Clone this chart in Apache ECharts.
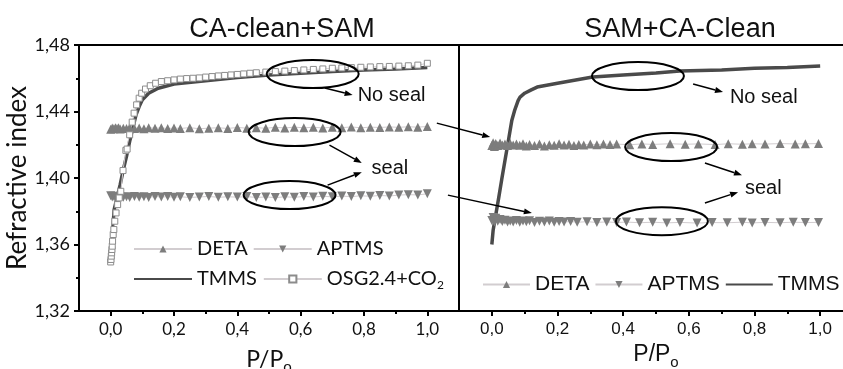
<!DOCTYPE html>
<html><head><meta charset="utf-8">
<script src="https://cdn.jsdelivr.net/npm/echarts@6/dist/echarts.min.js"></script>
<style>html,body{margin:0;padding:0;background:#fff}#c{width:843px;height:369px}</style>
</head><body><div id="c"></div>
<script>
// ---------- tick labels ----------
const xTicks = [0, 0.2, 0.4, 0.6, 0.8, 1.0];
const xMinorTicks = [0.1, 0.3, 0.5, 0.7, 0.9];
const yTicks = [1.32, 1.36, 1.40, 1.44, 1.48];

// ---------- left panel: CA-clean+SAM ----------
const detaLX = [0,0.005,0.01,0.015,0.02,0.025,0.03,0.04,0.05,0.06,0.075,0.09,0.105,0.12,0.14,0.16,0.18,0.2,0.22,0.25,0.28,0.31,0.34,0.37,0.4,0.43,0.46,0.49,0.52,0.55,0.58,0.61,0.64,0.67,0.7,0.73,0.76,0.79,0.82,0.85,0.88,0.91,0.94,0.97,1.0];
const detaLY = [1.4293,1.4301,1.4296,1.4303,1.4298,1.4302,1.4295,1.4300,1.4297,1.4304,1.4298,1.4301,1.4296,1.4303,1.4299,1.4302,1.4297,1.4301,1.4298,1.4303,1.4296,1.4300,1.4302,1.4298,1.4304,1.4300,1.4303,1.4299,1.4305,1.4301,1.4306,1.4302,1.4305,1.4301,1.4306,1.4303,1.4307,1.4302,1.4306,1.4304,1.4307,1.4305,1.4308,1.4306,1.4310];
const aptmsLX = detaLX;
const aptmsLY = [1.3893,1.3885,1.3890,1.3883,1.3888,1.3882,1.3889,1.3884,1.3887,1.3882,1.3888,1.3884,1.3887,1.3883,1.3889,1.3885,1.3888,1.3884,1.3887,1.3883,1.3886,1.3889,1.3884,1.3887,1.3885,1.3888,1.3883,1.3886,1.3882,1.3887,1.3884,1.3889,1.3886,1.3890,1.3887,1.3891,1.3888,1.3893,1.3890,1.3895,1.3892,1.3897,1.3900,1.3898,1.3905];
const tmmsLX = [0,0.005,0.011,0.02,0.03,0.04,0.05,0.06,0.07,0.08,0.09,0.1,0.12,0.15,0.2,0.3,0.4,0.5,0.6,0.7,0.8,0.9,1.0];
const tmmsLY = [1.348,1.364,1.381,1.388,1.396,1.405,1.413,1.422,1.430,1.438,1.443,1.447,1.451,1.454,1.4565,1.4585,1.4605,1.462,1.463,1.464,1.465,1.4655,1.4665];
const osgX = [0,0.001,0.002,0.003,0.004,0.005,0.006,0.008,0.01,0.013,0.017,0.022,0.027,0.032,0.039,0.048,0.052,0.06,0.068,0.074,0.082,0.09,0.098,0.11,0.125,0.142,0.16,0.18,0.2,0.22,0.24,0.26,0.28,0.3,0.32,0.34,0.36,0.38,0.4,0.42,0.44,0.46,0.49,0.52,0.55,0.58,0.61,0.64,0.67,0.7,0.73,0.76,0.79,0.82,0.85,0.88,0.91,0.94,0.97,1.0];
const osgY = [1.3495,1.351,1.353,1.355,1.357,1.359,1.362,1.366,1.369,1.374,1.379,1.384,1.388,1.392,1.4045,1.4166,1.4174,1.426,1.4336,1.439,1.444,1.448,1.451,1.4535,1.4555,1.457,1.458,1.4585,1.459,1.4595,1.4598,1.460,1.4602,1.4607,1.461,1.4614,1.4617,1.462,1.4623,1.4626,1.463,1.4633,1.4637,1.464,1.4643,1.4646,1.465,1.4653,1.4656,1.466,1.4662,1.4664,1.4666,1.4668,1.467,1.4671,1.4673,1.4675,1.4679,1.469];

// ---------- right panel: SAM+CA-Clean ----------
const detaRX = [0,0.004,0.008,0.012,0.018,0.025,0.032,0.04,0.048,0.056,0.065,0.075,0.085,0.095,0.105,0.115,0.13,0.145,0.16,0.175,0.19,0.205,0.22,0.235,0.25,0.265,0.28,0.30,0.32,0.34,0.36,0.38,0.42,0.457,0.49,0.543,0.589,0.629,0.68,0.72,0.763,0.793,0.832,0.878,0.924,0.955,0.995];
const detaRY = [1.4195,1.4212,1.4190,1.4208,1.4196,1.4210,1.4198,1.4205,1.4195,1.4207,1.4199,1.4204,1.4197,1.4206,1.4193,1.4201,1.4196,1.4205,1.4192,1.4200,1.4197,1.4206,1.4198,1.4203,1.4196,1.4202,1.4199,1.4204,1.4200,1.4205,1.4201,1.4204,1.4200,1.4205,1.4202,1.4206,1.4203,1.4205,1.4201,1.4206,1.4203,1.4206,1.4204,1.4207,1.4205,1.4206,1.4207];
const aptmsRX = [0,0.004,0.008,0.012,0.018,0.025,0.032,0.04,0.048,0.056,0.065,0.075,0.085,0.095,0.105,0.115,0.13,0.145,0.16,0.175,0.19,0.205,0.22,0.24,0.26,0.29,0.32,0.35,0.38,0.41,0.45,0.49,0.533,0.573,0.625,0.671,0.717,0.763,0.793,0.832,0.878,0.918,0.955,0.995];
const aptmsRY = [1.3745,1.3762,1.3735,1.3758,1.3740,1.3750,1.3738,1.3746,1.3735,1.3742,1.3736,1.3744,1.3734,1.3741,1.3737,1.3743,1.3733,1.3740,1.3736,1.3742,1.3734,1.3739,1.3735,1.3738,1.3734,1.3737,1.3733,1.3736,1.3732,1.3735,1.3731,1.3734,1.3730,1.3733,1.3729,1.3732,1.3731,1.3734,1.3730,1.3733,1.3731,1.3734,1.3732,1.3733];
const tmmsRX = [0,0.004,0.01,0.02,0.03,0.04,0.05,0.061,0.07,0.08,0.086,0.1,0.12,0.138,0.2,0.307,0.4,0.5,0.572,0.7,0.8,0.9,1.0];
const tmmsRY = [1.360,1.3686,1.3756,1.387,1.399,1.4105,1.422,1.4348,1.441,1.4465,1.4487,1.451,1.453,1.4547,1.457,1.4607,1.462,1.4632,1.4643,1.465,1.466,1.4665,1.4674];

// ---------- annotations (data coordinates of each panel) ----------
const ellipses = [
  {g:0, c:[0.638,1.4625]}, {g:0, c:[0.581,1.4276]}, {g:0, c:[0.565,1.3897]},
  {g:1, c:[0.445,1.4613]}, {g:1, c:[0.546,1.4186]}, {g:1, c:[0.518,1.3740]}
];
const arrows = [
  {g1:0, p1:[0.676,1.4541], g2:0, p2:[0.764,1.4499]},
  {g1:0, p1:[0.691,1.4198], g2:0, p2:[0.793,1.4090]},
  {g1:0, p1:[0.685,1.3957], g2:0, p2:[0.793,1.4035]},
  {g1:0, p1:[1.030,1.4330], g2:1, p2:[-0.005,1.4246]},
  {g1:0, p1:[1.065,1.3897], g2:1, p2:[0.122,1.3789]},
  {g1:1, p1:[0.613,1.4565], g2:1, p2:[0.704,1.4517]},
  {g1:1, p1:[0.649,1.4090], g2:1, p2:[0.762,1.4017]},
  {g1:1, p1:[0.649,1.3850], g2:1, p2:[0.750,1.3915]}
];
const notes = [
  {g:0, p:[0.780,1.4499], t:'No seal'}, {g:0, p:[0.824,1.4060], t:'seal'},
  {g:1, p:[0.725,1.4487], t:'No seal'}, {g:1, p:[0.771,1.3939], t:'seal'}
];

const zip = (xs, ys) => xs.map((x, i) => [x, ys[i]]);
const fmtX = v => v.toFixed(1).replace('.', ',');
const fmtY = v => v.toFixed(2).replace('.', ',');
const GILL = 'Lato';
const ARIAL = 'Liberation Sans';

const chart = echarts.init(document.getElementById('c'), null, {renderer: 'canvas'});

function xAxisPair(gi, labelFont, nameGap) {
  return [
    { type:'value', gridIndex:gi, min:-0.1, max:1.1, position:'bottom',
      axisLine:{show:true, onZero:false, lineStyle:{color:'#000', width:2}},
      axisTick:{show:true, customValues:xTicks, length:5, lineStyle:{color:'#000', width:2}},
      axisLabel:{show:true, customValues:xTicks, formatter:fmtX, color:'#111', fontSize:17, fontFamily:labelFont, margin:10},
      splitLine:{show:false},
      name:'{a|P/P}{s|o}', nameLocation:'middle', nameGap:nameGap,
      nameTextStyle:{rich:{a:{fontSize:23, fontFamily:labelFont, color:'#111'}, s:{fontSize:15, fontFamily:labelFont, color:'#111', padding:[16,0,0,0]}}}
    },
    { type:'value', gridIndex:gi, min:-0.1, max:1.1, position:'bottom',
      axisLine:{show:false, onZero:false},
      axisTick:{show:true, customValues:xMinorTicks, length:3, lineStyle:{color:'#000', width:2}},
      axisLabel:{show:false}, splitLine:{show:false}
    }
  ];
}

const triColor = '#7d7d7d';
const thinLine = {color:'#d2cdd0', width:1};

const option = {
  animation:false,
  backgroundColor:'#ffffff',
  title:[
    {text:'CA-clean+SAM', left:277, top:11, textAlign:'center', textStyle:{fontFamily:ARIAL, fontSize:27, fontWeight:'normal', color:'#111'}},
    {text:'SAM+CA-Clean', left:675, top:11, textAlign:'center', textStyle:{fontFamily:ARIAL, fontSize:27, fontWeight:'normal', color:'#111'}}
  ],
  grid:[
    {left:79, top:45, width:380, height:266, show:true, borderColor:'#000', borderWidth:2, backgroundColor:'transparent', containLabel:false, outerBoundsMode:'none'},
    {left:459, top:45, width:394, height:266, show:true, borderColor:'#000', borderWidth:2, backgroundColor:'transparent', containLabel:false, outerBoundsMode:'none'}
  ],
  xAxis:[...xAxisPair(0, GILL, 33), ...xAxisPair(1, ARIAL, 26)],
  yAxis:[
    { type:'value', gridIndex:0, min:1.32, max:1.48, interval:0.04,
      axisLine:{show:true, onZero:false, lineStyle:{color:'#000', width:2}},
      axisTick:{show:true, length:5, lineStyle:{color:'#000', width:2}},
      minorTick:{show:true, splitNumber:2, length:3, lineStyle:{color:'#000', width:2}},
      axisLabel:{formatter:fmtY, color:'#111', fontSize:18, fontFamily:GILL, margin:9},
      splitLine:{show:false},
      name:'Refractive index', nameLocation:'middle', nameGap:44,
      nameTextStyle:{fontSize:26, fontFamily:GILL, color:'#111'}
    },
    { type:'value', gridIndex:1, min:1.32, max:1.48, interval:0.04,
      axisLine:{show:true, onZero:false, lineStyle:{color:'#000', width:2}},
      axisTick:{show:false}, axisLabel:{show:false}, splitLine:{show:false}
    }
  ],
  legend:[
    {data:['DETA','APTMS'], left:133, top:239, padding:0, itemWidth:58, itemHeight:9, itemGap:5, selectedMode:false,
     textStyle:{fontFamily:GILL, fontSize:20, color:'#111'}},
    {data:[{name:'TMMS', itemStyle:{opacity:0}}, 'OSG2.4+CO2'], left:133, top:269, padding:0, itemWidth:58, itemHeight:9, itemGap:6, selectedMode:false,
     formatter: n => n === 'OSG2.4+CO2' ? '{m|OSG2.4+CO}{s|2}' : '{m|' + n + '}',
     textStyle:{fontFamily:GILL, fontSize:20, color:'#111',
       rich:{m:{fontFamily:GILL, fontSize:20, color:'#111'}, s:{fontFamily:GILL, fontSize:12, color:'#111', padding:[12,0,0,0]}}}},
    {data:['DETA','APTMS',{name:'TMMS', itemStyle:{opacity:0}}], left:482, top:274, width:361, padding:0, itemWidth:47, itemHeight:9, itemGap:5, selectedMode:false,
     textStyle:{fontFamily:ARIAL, fontSize:21, color:'#111'}}
  ],
  series:[
    {name:'DETA', type:'line', xAxisIndex:0, yAxisIndex:0, data:zip(detaLX, detaLY),
     symbol:'triangle', symbolSize:9, itemStyle:{color:triColor}, lineStyle:thinLine},
    {name:'APTMS', type:'line', xAxisIndex:0, yAxisIndex:0, data:zip(aptmsLX, aptmsLY),
     symbol:'triangle', symbolRotate:180, symbolSize:9, itemStyle:{color:triColor}, lineStyle:thinLine},
    {name:'TMMS', type:'line', xAxisIndex:0, yAxisIndex:0, data:zip(tmmsLX, tmmsLY),
     symbol:'none', showSymbol:false, itemStyle:{color:'#4a4a4a'}, lineStyle:{color:'#4a4a4a', width:3.5}},
    {name:'OSG2.4+CO2', type:'line', xAxisIndex:0, yAxisIndex:0, data:zip(osgX, osgY),
     symbol:'rect', symbolSize:6, itemStyle:{color:'#ffffff', borderColor:'#8c8c8c', borderWidth:1}, lineStyle:thinLine},
    {name:'DETA', type:'line', xAxisIndex:2, yAxisIndex:1, data:zip(detaRX, detaRY),
     symbol:'triangle', symbolSize:9, itemStyle:{color:triColor}, lineStyle:thinLine},
    {name:'APTMS', type:'line', xAxisIndex:2, yAxisIndex:1, data:zip(aptmsRX, aptmsRY),
     symbol:'triangle', symbolRotate:180, symbolSize:9, itemStyle:{color:triColor}, lineStyle:thinLine},
    {name:'TMMS', type:'line', xAxisIndex:2, yAxisIndex:1, data:zip(tmmsRX, tmmsRY),
     symbol:'none', showSymbol:false, itemStyle:{color:'#4a4a4a'}, lineStyle:{color:'#4a4a4a', width:3.5}}
  ]
};
chart.setOption(option);

// annotations drawn at positions converted from data coordinates
const px = (g, p) => chart.convertToPixel({gridIndex:g}, p);
const els = [];
ellipses.forEach(e => {
  const c = px(e.g, e.c);
  els.push({type:'ellipse', shape:{cx:c[0], cy:c[1], rx:46, ry:14}, style:{fill:null, stroke:'#000', lineWidth:2}, z:100});
});
arrows.forEach(a => {
  const s = px(a.g1, a.p1), t = px(a.g2, a.p2);
  const dx = t[0]-s[0], dy = t[1]-s[1], L = Math.hypot(dx, dy);
  const ux = dx/L, uy = dy/L, h = 8, w = 3;
  const bx = t[0]-ux*h, by = t[1]-uy*h;
  els.push({type:'line', shape:{x1:s[0], y1:s[1], x2:bx, y2:by}, style:{stroke:'#000', lineWidth:1.5}, z:100});
  els.push({type:'polygon', shape:{points:[[t[0],t[1]],[bx-uy*w,by+ux*w],[bx+uy*w,by-ux*w]]}, style:{fill:'#000'}, z:100});
});
notes.forEach(n => {
  const p = px(n.g, n.p);
  els.push({type:'text', x:p[0], y:p[1], style:{text:n.t, fontFamily:ARIAL, fontSize:20, fill:'#111', verticalAlign:'middle', align:'left'}, z:100});
});
chart.setOption({graphic:{elements:els}});
</script>
</body></html>
